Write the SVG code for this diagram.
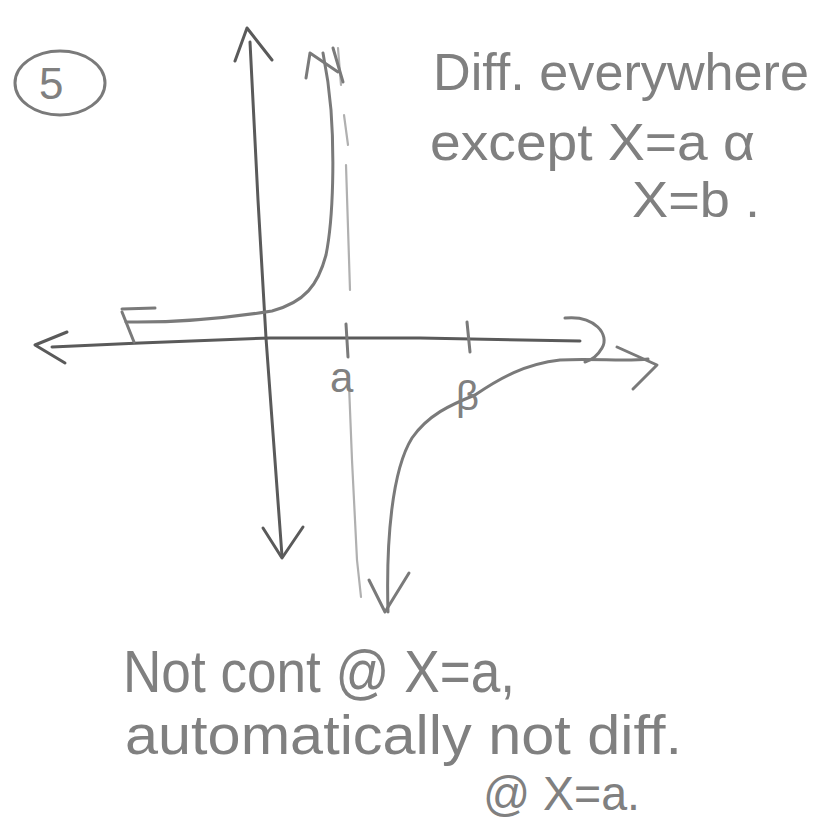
<svg xmlns="http://www.w3.org/2000/svg" width="825" height="834" viewBox="0 0 825 834">
<style>
.ax{fill:none;stroke:#5a5a5a;stroke-width:3;stroke-linecap:round;stroke-linejoin:round}
.cv{fill:none;stroke:#7a7a7a;stroke-width:3;stroke-linecap:round;stroke-linejoin:round}
.lt{fill:none;stroke:#b0b0b0;stroke-width:2.2;stroke-linecap:round}
.tx{font-family:"Liberation Sans","DejaVu Sans",sans-serif;fill:#808080;font-weight:normal}
</style>
<rect width="825" height="834" fill="#ffffff"/>
<g id="label5">
<ellipse cx="60" cy="83" rx="45" ry="32" class="cv" stroke-width="2.5"/>
<text class="tx" x="39" y="99" font-size="44">5</text>
</g>
<g id="axes">
<path class="ax" d="M250,42 L258,200 L266,338 L282,556"/>
<path class="ax" d="M235,61 L247,28 L272,60"/>
<path class="ax" d="M263,528 L282,558 L303,527"/>
<path class="ax" d="M52,347 L140,343 L270,338 L420,338 L580,341"/>
<path class="ax" d="M67,332 L35,345 L65,363"/>
<path class="cv" d="M346,324 L348,357"/>
<path class="cv" d="M467,322 L470,352"/>
</g>
<g id="asymptote">
<path class="lt" d="M338,48 L341,85"/>
<path class="lt" d="M344,115 L348,145"/>
<path class="lt" d="M346,165 L350,290"/>
<path class="lt" d="M349,385 L352,460 L357,560 L361,597"/>
</g>
<g id="curves">
<path class="cv" d="M122,309 L155,308"/>
<path class="cv" d="M122,312 L134,342"/>
<path class="cv" d="M126,322 C190,323 240,316 272,311 C305,302 318,285 326,255 C334,215 334,150 331,110 C329,85 326,68 323,53"/>
<path class="cv" d="M306,78 L310,53 L338,72"/>
<path class="cv" d="M333,48 L343,82"/>
<path class="cv" d="M388,612 C386,540 392,470 412,438 C428,415 450,405 475,395 C500,378 525,364 560,360 C595,358 625,362 648,359"/>
<path class="cv" d="M369,580 L385,612 L409,573"/>
<path class="cv" d="M617,347 L657,365 L633,389"/>
<path class="cv" d="M565,318 C595,315 610,335 602,348 C598,355 592,360 585,362"/>
</g>
<g id="labels">
<text class="tx" x="330" y="392" font-size="42">a</text>
<text class="tx" x="456" y="410" font-size="40">β</text>
<text class="tx" x="433" y="90" font-size="52" textLength="376" lengthAdjust="spacingAndGlyphs">Diff. everywhere</text>
<text class="tx" x="430" y="160" font-size="52" textLength="325" lengthAdjust="spacingAndGlyphs">except X=a α</text>
<text class="tx" x="632" y="217" font-size="50" textLength="128" lengthAdjust="spacingAndGlyphs">X=b .</text>
<text class="tx" x="123" y="692" font-size="60" textLength="392" lengthAdjust="spacingAndGlyphs">Not cont @ X=a,</text>
<text class="tx" x="125" y="754" font-size="56" textLength="557" lengthAdjust="spacingAndGlyphs">automatically not diff.</text>
<text class="tx" x="483" y="810" font-size="48" textLength="157" lengthAdjust="spacingAndGlyphs">@ X=a.</text>
</g>
</svg>
